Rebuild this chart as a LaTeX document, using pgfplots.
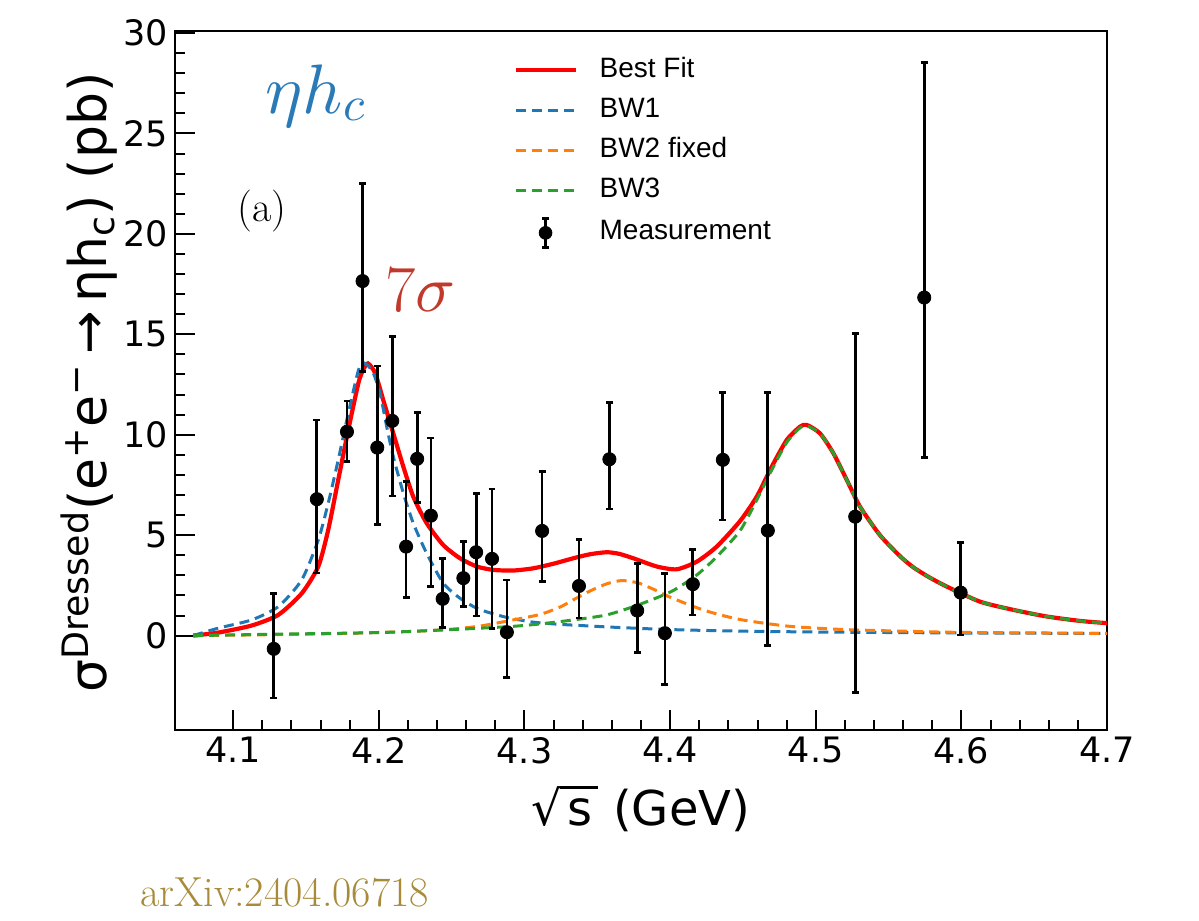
\documentclass[border=0pt]{standalone}
\usepackage{pgfplots}
\usepackage{pgfplotstable}
\pgfplotsset{compat=1.18}
\usepackage{fontspec}
\DeclareFontShape{OML}{cmm}{m}{it}{<->cmmi10}{}
\DeclareFontShape{OT1}{cmr}{m}{n}{<->cmr10}{}
\newfontfamily\dejavu{DejaVu Sans}
\newfontfamily\arialf{Liberation Sans}
\definecolor{mplblue}{HTML}{1F77B4}
\definecolor{mplorange}{HTML}{FF7F0E}
\definecolor{mplgreen}{HTML}{2CA02C}
\definecolor{sigred}{HTML}{C0392B}
\definecolor{etablue}{HTML}{2A7AB8}
\definecolor{arxivgold}{RGB}{168,139,58}

\pgfplotstableread{
x y
4.0725 0.00
4.0897 0.15
4.1126 0.50
4.1309 1.03
4.1470 2.10
4.1584 3.44
4.1652 5.26
4.1721 7.75
4.1790 10.24
4.1859 12.56
4.1890 13.20
4.1925 13.55
4.1975 13.06
4.2030 11.73
4.2099 10.07
4.2168 8.41
4.2236 6.92
4.2328 5.60
4.2442 4.51
4.2557 3.85
4.2672 3.44
4.2786 3.27
4.2923 3.24
4.3060 3.35
4.3200 3.58
4.3335 3.85
4.3450 4.05
4.3565 4.15
4.3650 4.07
4.3747 3.85
4.3908 3.44
4.4045 3.30
4.4183 3.68
4.4320 4.43
4.4480 5.70
4.4595 6.92
4.4698 8.41
4.4801 9.74
4.4892 10.40
4.4938 10.49
4.5029 10.07
4.5121 9.08
4.5213 7.75
4.5304 6.42
4.5441 5.00
4.5579 3.95
4.5670 3.40
4.5780 2.90
4.5900 2.44
4.6128 1.69
4.6357 1.28
4.6587 0.95
4.6816 0.73
4.7000 0.62
}\redtab

\pgfplotstableread{
x y
4.0725 0.00
4.0897 0.37
4.1126 0.78
4.1309 1.44
4.1470 2.77
4.1584 4.76
4.1652 6.59
4.1721 8.75
4.1790 11.07
4.1859 13.20
4.1893 13.58
4.1930 13.40
4.1962 13.07
4.2008 12.07
4.2054 10.40
4.2099 8.91
4.2168 7.09
4.2236 5.60
4.2328 4.10
4.2442 2.61
4.2557 1.86
4.2672 1.36
4.2786 1.08
4.2900 0.87
4.3060 0.67
4.3244 0.56
4.3600 0.42
4.4000 0.30
4.4500 0.22
4.5000 0.18
4.6000 0.13
4.7000 0.11
}\bluetab

\pgfplotstableread{
x y
4.0725 0.00
4.1200 0.04
4.1700 0.10
4.2200 0.20
4.2500 0.32
4.2700 0.48
4.2900 0.75
4.3106 1.05
4.3244 1.42
4.3335 1.78
4.3450 2.22
4.3565 2.58
4.3668 2.74
4.3782 2.62
4.3900 2.26
4.4010 1.88
4.4238 1.25
4.4480 0.80
4.4823 0.46
4.5200 0.30
4.5600 0.22
4.6000 0.16
4.7000 0.11
}\orangetab

\pgfplotstableread{
x y
4.0725 0.00
4.1300 0.07
4.2000 0.15
4.2500 0.30
4.2900 0.45
4.3106 0.58
4.3335 0.78
4.3565 1.03
4.3782 1.53
4.4010 2.20
4.4180 3.00
4.4317 3.90
4.4480 5.22
4.4595 6.75
4.4698 8.25
4.4801 9.62
4.4892 10.35
4.4938 10.45
4.5029 10.07
4.5121 9.08
4.5213 7.75
4.5304 6.42
4.5441 5.00
4.5579 3.95
4.5670 3.40
4.5780 2.90
4.5900 2.44
4.6128 1.69
4.6357 1.28
4.6587 0.95
4.6816 0.73
4.7000 0.62
}\greentab

\pgfplotstableread{
x y ep em
4.1278 -0.66 2.77 2.44
4.1574 6.79 3.95 3.68
4.1781 10.15 1.53 1.49
4.1888 17.65 4.87 4.51
4.1989 9.36 4.06 3.82
4.2092 10.69 4.19 3.74
4.2187 4.43 3.24 2.54
4.2263 8.80 2.30 2.16
4.2357 5.97 3.86 3.53
4.2438 1.83 2.02 1.41
4.2580 2.86 1.82 1.42
4.2668 4.15 2.94 3.17
4.2777 3.82 3.48 3.45
4.2879 0.17 2.60 2.27
4.3121 5.21 2.95 2.52
4.3374 2.47 2.33 1.60
4.3583 8.78 2.82 2.48
4.3774 1.25 2.35 2.08
4.3964 0.12 2.98 2.57
4.4156 2.56 1.71 1.53
4.4362 8.75 3.35 2.99
4.4671 5.23 6.87 5.74
4.5271 5.92 9.13 8.76
4.5745 16.83 11.70 7.97
4.5995 2.14 2.49 2.11
}\datatab

\begin{document}
\begin{tikzpicture}
\path[use as bounding box] (-87.5bp,-95.5bp) rectangle (512bp,365bp);
\begin{axis}[
  at={(0,0)}, anchor=south west,
  scale only axis, width=466bp, height=349.5bp,
  xmin=4.06, xmax=4.7, ymin=-4.7, ymax=30.1,
  xtick={4.1,4.2,4.3,4.4,4.5,4.6,4.7},
  ytick={0,5,10,15,20,25,30},
  minor x tick num=4, minor y tick num=4,
  tick align=inside, tick pos=left,
  major tick length=10bp, minor tick length=5bp,
  every tick/.append style={black, line width=1bp},
  axis line style={black, line width=1bp},
  /pgf/number format/assume math mode=true,
  xticklabel style={font=\dejavu\fontsize{17.5bp}{20bp}\selectfont,
    /pgf/number format/fixed, /pgf/number format/precision=1,
    /pgf/number format/fixed zerofill},
  yticklabel style={font=\dejavu\fontsize{17.5bp}{20bp}\selectfont},
  xlabel={√\kern-0.05em\rlap{\rule[0.755em]{0.8em}{0.055em}}\kern0.15em s\kern0.12em{} (GeV)},
  xlabel style={font=\dejavu\fontsize{24bp}{28bp}\selectfont,
    at={(axis description cs:0.5,-0.136)}, anchor=base},
  ylabel={σ\textsuperscript{Dressed}(e\textsuperscript{+}e\textsuperscript{−}\,→\,ηh\textsubscript{c}) (pb)},
  ylabel style={font=\dejavu\fontsize{26bp}{30bp}\selectfont,
    at={(axis description cs:-0.073,0.497)}, anchor=base},
  clip=false,
  legend image code/.code={\draw[#1] (0bp,0bp) -- (30bp,0bp);},
  legend cell align=left,
  legend style={draw=none, fill=none, at={(0.3627,0.9632)}, anchor=north west,
    font=\arialf\fontsize{14bp}{16bp}\selectfont, inner sep=0pt, row sep=7bp,
    nodes={inner sep=0pt, text height=10bp, text depth=3bp},
    /tikz/every odd column/.append style={column sep=11bp}},
]
\addplot[red, line width=2.1bp, smooth, tension=0.4] table[x=x,y=y] {\redtab};
\addlegendentry{Best Fit}
\addplot[mplblue, line width=1.5bp, dash pattern=on 5bp off 3bp, smooth, tension=0.4] table[x=x,y=y] {\bluetab};
\addlegendentry{BW1}
\addplot[mplorange, line width=1.5bp, dash pattern=on 5bp off 3bp, smooth, tension=0.4] table[x=x,y=y] {\orangetab};
\addlegendentry{BW2 fixed}
\addplot[mplgreen, line width=1.5bp, dash pattern=on 5bp off 3bp, smooth, tension=0.4] table[x=x,y=y] {\greentab};
\addlegendentry{BW3}
\addplot[only marks, mark=*, mark size=3.3bp, black,
  legend image code/.code={
    \draw[black, line width=1.35bp] (15bp,-7.2bp) -- (15bp,7.2bp);
    \draw[black, line width=1.35bp] (13.3bp,-7.2bp) -- (16.7bp,-7.2bp) (13.3bp,7.2bp) -- (16.7bp,7.2bp);
    \fill[black] (15bp,0bp) circle (3.2bp);},
  error bars/.cd, y dir=both, y explicit,
  error bar style={line width=1.35bp, black},
  error mark options={rotate=90, mark size=1.7bp, line width=1.35bp, black}]
  table[x=x, y=y, y error plus=ep, y error minus=em] {\datatab};
\addlegendentry{Measurement}
\node[anchor=base west, inner sep=0pt, text=etablue, font=\fontsize{35bp}{38bp}\selectfont] at (axis description cs:0.0966,0.8820) {$\eta h_c$};
\node[anchor=base west, inner sep=0pt, text=sigred, font=\fontsize{33bp}{36bp}\selectfont] at (axis description cs:0.2253,0.5980) {7$\sigma$};
\node[anchor=base west, inner sep=0pt, font=\fontsize{21bp}{24bp}\selectfont] at (axis description cs:0.0665,0.7268) {(a)};
\node[anchor=base west, inner sep=0pt, text=arxivgold, font=\fontsize{21bp}{25bp}\selectfont] at (axis description cs:-0.0376,-0.2518) {arXiv:2404.06718};
\end{axis}
\end{tikzpicture}
\end{document}
